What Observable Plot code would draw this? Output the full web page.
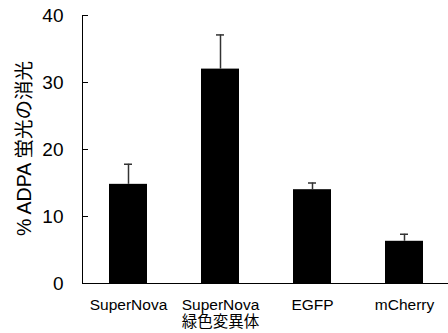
<!DOCTYPE html>
<html>
<head>
<meta charset="utf-8">
<script src="https://cdn.jsdelivr.net/npm/d3@7"></script>
<script src="https://cdn.jsdelivr.net/npm/@observablehq/plot@0.6"></script>
<style>
  html, body { margin: 0; padding: 0; background: #fff; }
  #chart svg { display: block; }
</style>
</head>
<body>
<div id="chart"></div>
<script>
const categories = ["SuperNova", "SuperNova\n緑色変異体", "EGFP", "mCherry"];
const values = [14.8, 32.0, 14.0, 6.3];
const errors = [3.0, 5.1, 1.0, 1.05];
const yTicks = [0, 10, 20, 30, 40];
const yLabel = "% ADPA 蛍光の消光";

const data = categories.map((c, i) => ({name: c, value: values[i], hi: values[i] + errors[i]}));

const W = 448, ML = 82, MR = -2;
const chart = Plot.plot({
  width: W,
  height: 333,
  marginTop: 15,
  marginBottom: 50,
  marginLeft: ML,
  marginRight: MR,
  style: {fontFamily: "'Liberation Sans', Arial, 'Noto Sans CJK JP', sans-serif", background: "#fff", color: "#000"},
  x: {domain: categories, paddingInner: 0.585, paddingOuter: 0.2925, label: null},
  y: {domain: [0, 40], label: null},
  marks: [
    Plot.barY(data, {x: "name", y: "value", fill: "#000"}),
    Plot.ruleX(data, {x: "name", y1: "value", y2: "hi", stroke: "#333", strokeWidth: 1.5}),
    Plot.tickY(data, {x: "name", y: "hi", stroke: "#333", strokeWidth: 1.5, insetLeft: 15, insetRight: 15}),
    Plot.axisX({tickSize: 0, tickPadding: 14, fontSize: 15.5, lineHeight: 1.12, label: null}),
    Plot.axisY(yTicks, {tickSize: 0, tickPadding: 19, fontSize: 19, label: null}),
    Plot.tickY(yTicks, {y: d => d, stroke: "#000", insetRight: (W - ML - MR) - 6}),
    Plot.frame({anchor: "left", stroke: "#000"}),
    Plot.frame({anchor: "bottom", stroke: "#000"}),
    Plot.text([yLabel], {frameAnchor: "left", textAnchor: "middle", text: d => d, rotate: -90, dx: -58, dy: -1, fontSize: 19.5, fill: "#000"})
  ]
});
document.getElementById("chart").appendChild(chart);
</script>
</body>
</html>
